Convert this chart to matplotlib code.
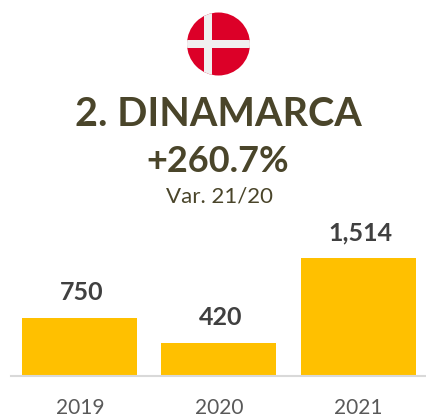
import numpy as np
import matplotlib
matplotlib.use('Agg')
import matplotlib.pyplot as plt
from matplotlib.patches import Circle, Rectangle

years = ['2019', '2020', '2021']
values = [750, 420, 1514]
value_labels = ['750', '420', '1,514']
title = '2. DINAMARCA'
growth = '+260.7%'
subtitle = 'Var. 21/20'

W, H = 426, 417
plt.rcParams['font.family'] = ['Lato', 'DejaVu Sans']
fig = plt.figure(figsize=(W / 100, H / 100), dpi=100)

# bars, axes runs from x=11 to the right edge with the line at y=376
ax = fig.add_axes([11 / W, 1 - 376 / H, 415 / W, 118 / H])
ax.bar([0, 1, 2], values, width=0.827, color='#FFC000')
ax.set_xlim(-0.496, 2.489)
ax.set_ylim(0, 1514)
ax.set_xticks([0, 1, 2], years)
ax.set_yticks([])
ax.tick_params(axis='x', length=0, pad=16, labelsize=15, colors='#595959')
for s in ['top', 'left', 'right']:
    ax.spines[s].set_visible(False)
ax.spines['bottom'].set_color('#D9D9D9')
ax.spines['bottom'].set_linewidth(1.5)
for i, v in enumerate(values):
    ax.annotate(value_labels[i], (i, v), xytext=(1.5, 10), textcoords='offset points',
                ha='center', va='bottom', fontsize=18, fontweight='bold', color='#404040', clip_on=False)

# header
fig.text(218 / W, 1 - 114 / H, title, ha='center', va='center', fontsize=28.5, fontweight='bold', color='#4A452A')
fig.text(218 / W, 1 - 161 / H, growth, ha='center', va='center', fontsize=26, fontweight='bold', color='#4A452A')
fig.text(219 / W, 1 - 197 / H, subtitle, ha='center', va='center', fontsize=16, color='#4A452A')

# flag
fa = fig.add_axes([0, 0, 1, 1], facecolor='none')
fa.set_xlim(0, W)
fa.set_ylim(H, 0)
fa.axis('off')
clip = Circle((218.5, 44), 31.5, transform=fa.transData)
red = fa.add_patch(Rectangle((187, 12), 63, 64, color='#DC0028', lw=0))
red.set_clip_path(clip)
for r in [Rectangle((187, 40), 63, 8, color='#F0F0F0', lw=0), Rectangle((203.5, 12), 8.5, 64, color='#F0F0F0', lw=0)]:
    fa.add_patch(r).set_clip_path(clip)

fig.savefig('out.png', dpi=100)
